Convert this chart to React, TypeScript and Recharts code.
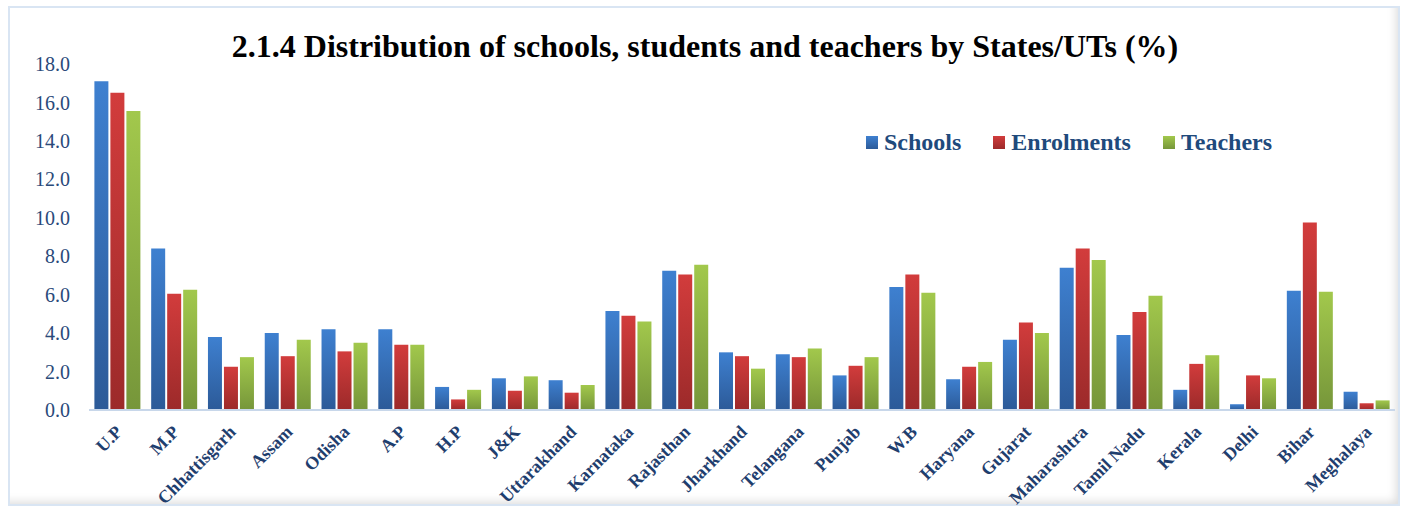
import React from 'react';
import { BarChart, Bar, XAxis, YAxis } from 'recharts';

const states = ['U.P', 'M.P', 'Chhattisgarh', 'Assam', 'Odisha', 'A.P', 'H.P', 'J&K', 'Uttarakhand', 'Karnataka', 'Rajasthan', 'Jharkhand', 'Telangana', 'Punjab', 'W.B', 'Haryana', 'Gujarat', 'Maharashtra', 'Tamil Nadu', 'Kerala', 'Delhi', 'Bihar', 'Meghalaya'];
const schools = [17.1, 8.4, 3.8, 4.0, 4.2, 4.2, 1.2, 1.65, 1.55, 5.15, 7.25, 3.0, 2.9, 1.8, 6.4, 1.6, 3.65, 7.4, 3.9, 1.05, 0.3, 6.2, 0.95];
const enrolments = [16.5, 6.05, 2.25, 2.8, 3.05, 3.4, 0.55, 1.0, 0.9, 4.9, 7.05, 2.8, 2.75, 2.3, 7.05, 2.25, 4.55, 8.4, 5.1, 2.4, 1.8, 9.75, 0.35];
const teachers = [15.55, 6.25, 2.75, 3.65, 3.5, 3.4, 1.05, 1.75, 1.3, 4.6, 7.55, 2.15, 3.2, 2.75, 6.1, 2.5, 4.0, 7.8, 5.95, 2.85, 1.65, 6.15, 0.5];
const yTicks = [0, 2, 4, 6, 8, 10, 12, 14, 16, 18];
const titleText = '2.1.4 Distribution of schools, students and teachers by States/UTs (%)';
const seriesNames = ['Schools', 'Enrolments', 'Teachers'];

const data = states.map((s, i) => ({ state: s, schools: schools[i], enrolments: enrolments[i], teachers: teachers[i] }));

const SERIF = '"Liberation Serif", "Times New Roman", serif';

const legendColors = [
  'linear-gradient(#3e80d0, #2c5a98)',
  'linear-gradient(#d23c3c, #9c2a2a)',
  'linear-gradient(#a2c84c, #76963a)',
];

const CatTick = (props: any) => {
  const { x, y, payload } = props;
  const ax = x + 6;
  const ay = y + 23;
  return (
    <text
      x={ax}
      y={ay}
      transform={`rotate(-45, ${ax}, ${ay})`}
      textAnchor="end"
      fontFamily={SERIF}
      fontWeight="bold"
      fontSize={18}
      fill="#1f3e6e"
    >
      {payload.value}
    </text>
  );
};

const LegendBox = () => (
  <div style={{ position: 'absolute', left: 866, top: 129, display: 'flex', alignItems: 'center', fontFamily: SERIF, fontWeight: 'bold', fontSize: 24, color: '#1f4a7c', whiteSpace: 'nowrap' }}>
    {seriesNames.map((n, i) => (
      <div key={n} style={{ display: 'flex', alignItems: 'center', marginRight: i < 2 ? 32 : 0 }}>
        <span style={{ display: 'inline-block', width: 12, height: 13, background: legendColors[i], marginRight: 6 }} />
        <span>{n}</span>
      </div>
    ))}
  </div>
);

export default function App() {
  return (
    <div style={{ position: 'absolute', left: 0, top: 0, width: 1405, height: 513, background: '#fff', overflow: 'hidden' }}>
      <svg width={0} height={0} style={{ position: 'absolute' }}>
        <defs>
          <linearGradient id="gBlue" x1="0" y1="0" x2="0" y2="1">
            <stop offset="0%" stopColor="#3e80d0" />
            <stop offset="100%" stopColor="#2c5a98" />
          </linearGradient>
          <linearGradient id="gRed" x1="0" y1="0" x2="0" y2="1">
            <stop offset="0%" stopColor="#d23c3c" />
            <stop offset="100%" stopColor="#9c2a2a" />
          </linearGradient>
          <linearGradient id="gGreen" x1="0" y1="0" x2="0" y2="1">
            <stop offset="0%" stopColor="#a2c84c" />
            <stop offset="100%" stopColor="#76963a" />
          </linearGradient>
        </defs>
      </svg>
      <div
        style={{
          position: 'absolute', left: 8, top: 6, width: 1388, height: 496,
          border: '2px solid #d9e5f3',
          boxShadow: 'inset -8px -8px 10px -6px rgba(0,0,0,0.14)',
        }}
      />
      <div
        style={{
          position: 'absolute', left: 0, top: 28, width: 1410, textAlign: 'center',
          fontFamily: SERIF, fontWeight: 'bold', fontSize: 32, color: '#000', whiteSpace: 'nowrap',
        }}
      >
        {titleText}
      </div>
      <LegendBox />
      <div style={{ position: 'absolute', left: 0, top: 0 }}>
        <BarChart
          width={1405}
          height={513}
          data={data}
          margin={{ top: 64, right: 10, bottom: 0, left: 0 }}
          barCategoryGap="9.5%"
          barGap={2}
        >
          <XAxis
            dataKey="state"
            interval={0}
            height={103}
            tickLine={false}
            tickSize={0}
            tickMargin={0}
            axisLine={{ stroke: '#c8d7ea', strokeWidth: 2 }}
            tick={<CatTick />}
          />
          <YAxis
            width={89}
            domain={[0, 18]}
            ticks={yTicks}
            interval={0}
            axisLine={false}
            tickLine={false}
            tickSize={0}
            tickMargin={19}
            tickFormatter={(v: number) => v.toFixed(1)}
            tick={{ fontFamily: SERIF, fontSize: 20, fill: '#2a4a7a' }}
          />
          <Bar dataKey="schools" name="Schools" fill="url(#gBlue)" isAnimationActive={false} />
          <Bar dataKey="enrolments" name="Enrolments" fill="url(#gRed)" isAnimationActive={false} />
          <Bar dataKey="teachers" name="Teachers" fill="url(#gGreen)" isAnimationActive={false} />
        </BarChart>
      </div>
    </div>
  );
}
